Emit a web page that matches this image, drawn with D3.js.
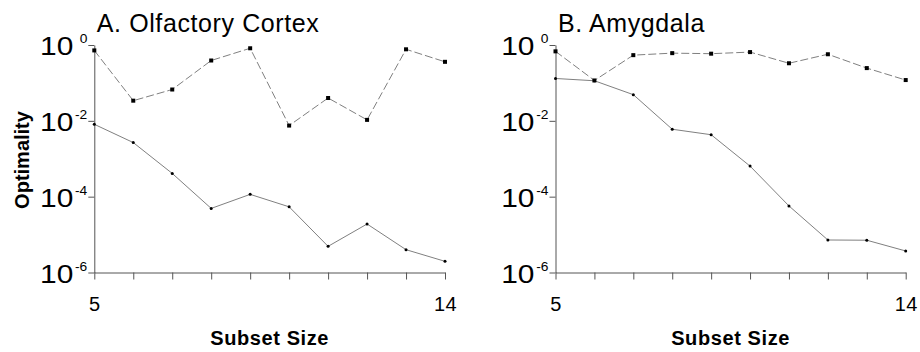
<!DOCTYPE html>
<html><head><meta charset="utf-8">
<script src="https://cdn.jsdelivr.net/npm/d3@7"></script>
<style>
body{margin:0;background:#fff;}
svg{display:block;font-family:"Liberation Sans",Arial,sans-serif;}
</style></head>
<body>
<svg id="c" width="920" height="352"></svg>
<script>
const sizes = [5,6,7,8,9,10,11,12,13,14];
const olfDashed = [0.72, 0.034, 0.067, 0.39, 0.82, 0.0075, 0.04, 0.0106, 0.77, 0.36];
const olfSolid  = [0.0081, 0.00267, 0.00041, 4.9e-5, 1.15e-4, 5.4e-5, 4.9e-6, 1.9e-5, 4.0e-6, 1.97e-6];
const amyDashed = [0.68, 0.116, 0.54, 0.61, 0.59, 0.65, 0.33, 0.57, 0.246, 0.119];
const amySolid  = [0.131, 0.114, 0.049, 0.006, 0.0043, 0.00064, 5.7e-5, 7.2e-6, 7.1e-6, 3.7e-6];
const yTicks = [1, 1e-2, 1e-4, 1e-6];
const yExps = ["0", "-2", "-4", "-6"];
const xLabelTicks = [5, 14];
const titles = ["A. Olfactory Cortex", "B. Amygdala"];

const svg = d3.select("#c");
const axisColor = "#555";
const lineColor = "#808080";
const yTop = 45, yBot = 272.5;

const panels = [
  {x0: 94.3, x1: 445, title: titles[0], dashed: olfDashed, solid: olfSolid},
  {x0: 555.5, x1: 905.7, title: titles[1], dashed: amyDashed, solid: amySolid}
];

const y = d3.scaleLog().domain([1e-6, 1]).range([yBot, yTop]);

panels.forEach((p) => {
  const x = d3.scaleLinear().domain([5, 14]).range([p.x0, p.x1]);
  const g = svg.append("g");

  // y axis
  const ya = g.append("g").attr("transform", `translate(${p.x0},0)`)
    .call(d3.axisLeft(y).tickValues(yTicks).tickSize(6).tickSizeOuter(0).tickFormat(""));
  ya.select(".domain").attr("stroke", axisColor);
  ya.selectAll(".tick line").attr("stroke", axisColor);

  // y tick labels: "10" + superscript exponent
  yTicks.forEach((t, i) => {
    const ty = y(t);
    g.append("text")
      .attr("transform", `translate(${p.x0 - 21},${ty + 10}) scale(1.15,1)`)
      .attr("text-anchor", "end")
      .attr("font-size", 26)
      .attr("fill", "#000")
      .text("10");
    g.append("text")
      .attr("transform", `translate(${p.x0 - 7},${ty - 2}) scale(1.15,1)`)
      .attr("text-anchor", "end")
      .attr("font-size", 12)
      .attr("fill", "#000")
      .text(yExps[i]);
  });

  // x axis
  const xa = g.append("g").attr("transform", `translate(0,${yBot})`)
    .call(d3.axisBottom(x).tickValues(sizes).tickSize(7).tickSizeOuter(0)
      .tickFormat(d => xLabelTicks.includes(d) ? d : ""));
  xa.select(".domain").attr("stroke", axisColor);
  xa.selectAll(".tick line").attr("stroke", axisColor);
  xa.selectAll(".tick text").attr("font-size", 20).attr("font-family", "Liberation Sans, Arial, sans-serif")
    .attr("fill", "#000").attr("dy", 0).attr("y", 38.5).attr("letter-spacing", 0.3);

  // x axis title
  g.append("text")
    .attr("x", (p.x0 + p.x1) / 2).attr("y", 345)
    .attr("text-anchor", "middle")
    .attr("font-size", 20).attr("font-weight", "bold")
    .attr("letter-spacing", 0.6)
    .attr("fill", "#000")
    .text("Subset Size");

  // panel title
  g.append("text")
    .attr("x", p.x0 + 2.5).attr("y", 31.5)
    .attr("font-size", 25)
    .attr("letter-spacing", 0.6)
    .attr("fill", "#000")
    .text(p.title);

  const line = d3.line().x((d, i) => x(sizes[i])).y(d => y(d));

  g.append("path").datum(p.dashed)
    .attr("d", line).attr("fill", "none")
    .attr("stroke", lineColor).attr("stroke-width", 1)
    .attr("stroke-dasharray", "8,3");
  g.append("path").datum(p.solid)
    .attr("d", line).attr("fill", "none")
    .attr("stroke", lineColor).attr("stroke-width", 1);

  g.selectAll(".sq").data(p.dashed).enter().append("rect")
    .attr("x", (d, i) => x(sizes[i]) - 2).attr("y", d => y(d) - 2)
    .attr("width", 4).attr("height", 4).attr("fill", "#000");
  g.selectAll(".dt").data(p.solid).enter().append("circle")
    .attr("cx", (d, i) => x(sizes[i])).attr("cy", d => y(d))
    .attr("r", 1.5).attr("fill", "#000");
});

// y axis title
svg.append("text")
  .attr("transform", "translate(28.5,160) rotate(-90)")
  .attr("text-anchor", "middle")
  .attr("font-size", 20).attr("font-weight", "bold")
  .attr("fill", "#000")
  .text("Optimality");
</script>
</body></html>
